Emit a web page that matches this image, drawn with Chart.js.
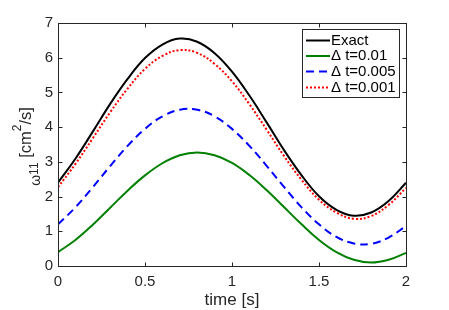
<!DOCTYPE html>
<html>
<head>
<meta charset="utf-8">
<script src="https://cdn.jsdelivr.net/npm/chart.js@4"></script>
<style>
  html, body { margin: 0; padding: 0; background: #fff; }
  #wrap { width: 449px; height: 310px; }
</style>
</head>
<body>
<div id="wrap"><canvas id="line-chart" width="449" height="310"></canvas></div>
<script>
// values, every 0.1 s
const time = [0, 0.1, 0.2, 0.3, 0.4, 0.5, 0.6, 0.7, 0.8, 0.9, 1.0,
              1.1, 1.2, 1.3, 1.4, 1.5, 1.6, 1.7, 1.8, 1.9, 2.0];
const exact  = [2.40, 3.09, 3.87, 4.67, 5.39, 5.99, 6.38, 6.55, 6.46, 6.13, 5.60,
                4.91, 4.13, 3.33, 2.61, 2.01, 1.62, 1.45, 1.54, 1.87, 2.40];
const dt001  = [0.40, 0.75, 1.19, 1.68, 2.17, 2.61, 2.96, 3.19, 3.27, 3.19, 2.97,
                2.62, 2.18, 1.69, 1.20, 0.75, 0.40, 0.18, 0.10, 0.18, 0.38];
const dt0005 = [1.20, 1.69, 2.27, 2.88, 3.46, 3.95, 4.31, 4.50, 4.50, 4.31, 3.95,
                3.46, 2.88, 2.27, 1.69, 1.20, 0.84, 0.65, 0.64, 0.82, 1.15];
const dt0001 = [2.27, 2.94, 3.68, 4.43, 5.11, 5.68, 6.05, 6.22, 6.14, 5.82, 5.32,
                4.66, 3.92, 3.16, 2.48, 1.91, 1.54, 1.36, 1.44, 1.76, 2.25];
const seriesLabels = ['Exact', '\u0394 t=0.01', '\u0394 t=0.005', '\u0394 t=0.001'];
const xTicks = [0, 0.5, 1, 1.5, 2];
const yTicks = [0, 1, 2, 3, 4, 5, 6, 7];

const axisColor = '#262626';
const font = '"Liberation Sans", Arial, Helvetica, sans-serif';

function pts(ys) {
  return ys.map((y, i) => ({ x: time[i], y: y }));
}

const styles = [
  { color: '#000000', dash: [] },
  { color: '#008000', dash: [] },
  { color: '#0000ff', dash: [8, 5] },
  { color: '#ff0000', dash: [2, 2] }
];
const allSeries = [exact, dt001, dt0005, dt0001];

// matlab-like box, inward ticks, legend inside and y label with sub/superscripts
const matlabBox = {
  id: 'matlabBox',
  afterDraw(chart) {
    const ctx = chart.ctx;
    const a = chart.chartArea;
    const xs = chart.scales.x, ys = chart.scales.y;
    const L = Math.round(a.left) + 0.5, R = Math.round(a.right) + 0.5;
    const T = Math.round(a.top) + 0.5, B = Math.round(a.bottom) + 0.5;
    ctx.save();
    ctx.strokeStyle = axisColor;
    ctx.lineWidth = 1;
    ctx.strokeRect(L, T, R - L, B - T);
    const tl = 4;
    ctx.beginPath();
    xTicks.forEach(v => {
      const px = Math.round(xs.getPixelForValue(v)) + 0.5;
      ctx.moveTo(px, B); ctx.lineTo(px, B - tl);
      ctx.moveTo(px, T); ctx.lineTo(px, T + tl);
    });
    yTicks.forEach(v => {
      const py = Math.round(ys.getPixelForValue(v)) + 0.5;
      ctx.moveTo(L, py); ctx.lineTo(L + tl, py);
      ctx.moveTo(R, py); ctx.lineTo(R - tl, py);
    });
    ctx.stroke();

    // x label
    ctx.fillStyle = axisColor;
    ctx.font = '17px ' + font;
    ctx.textAlign = 'center';
    ctx.textBaseline = 'alphabetic';
    ctx.fillText('time [s]', (a.left + a.right) / 2, 305);

    // y label: omega_11 [cm^2/s]
    const parts = [
      { t: '\u03c9', size: 14, base: 40 },
      { t: '11', size: 12, base: 38 },
      { t: ' [cm', size: 16.5, base: 31 },
      { t: '2', size: 12, base: 21 },
      { t: '/s]', size: 16.5, base: 31 }
    ];
    let total = 0;
    parts.forEach(p => {
      ctx.font = p.size + 'px ' + font;
      p.w = ctx.measureText(p.t).width;
      total += p.w;
    });
    const cy = (a.top + a.bottom) / 2 + 2;
    ctx.textAlign = 'left';
    let off = -total / 2;
    parts.forEach(p => {
      ctx.save();
      ctx.translate(p.base, cy);
      ctx.rotate(-Math.PI / 2);
      ctx.font = p.size + 'px ' + font;
      ctx.fillText(p.t, off, 0);
      ctx.restore();
      off += p.w;
    });

    // legend
    const bx = 302.5, by = 29.5, bw = 97, bh = 68;
    ctx.fillStyle = '#ffffff';
    ctx.fillRect(bx, by, bw, bh);
    ctx.strokeStyle = '#262626';
    ctx.lineWidth = 1;
    ctx.strokeRect(bx, by, bw, bh);
    const rowY = [40.5, 56, 71.5, 87.5];
    ctx.font = '15px ' + font;
    ctx.textBaseline = 'alphabetic';
    seriesLabels.forEach((lab, i) => {
      ctx.beginPath();
      ctx.strokeStyle = styles[i].color;
      ctx.lineWidth = 2;
      ctx.setLineDash(styles[i].dash);
      ctx.moveTo(306, rowY[i]);
      ctx.lineTo(330, rowY[i]);
      ctx.stroke();
      ctx.setLineDash([]);
      ctx.fillStyle = '#000';
      ctx.fillText(lab, 331, rowY[i] + 4);
    });
    ctx.restore();
  }
};

const chart = new Chart(document.getElementById('line-chart'), {
  type: 'line',
  data: {
    datasets: allSeries.map((ys, i) => ({
      label: seriesLabels[i],
      data: pts(ys),
      borderColor: styles[i].color,
      borderDash: styles[i].dash,
      borderWidth: 2,
      pointRadius: 0,
      fill: false,
      tension: 0.4,
      order: 4 - i
    }))
  },
  options: {
    responsive: false,
    animation: false,
    layout: { padding: { left: 0, right: 43, top: 23, bottom: 0 } },
    plugins: {
      legend: { display: false },
      tooltip: { enabled: false }
    },
    scales: {
      x: {
        type: 'linear',
        min: 0, max: 2,
        grid: { display: false, drawTicks: false },
        border: { display: false },
        ticks: {
          stepSize: 0.5,
          padding: 7,
          color: axisColor,
          font: { family: font, size: 15 },
          maxRotation: 0,
          callback: v => String(Number(v))
        },
        afterFit(s) { s.height = 44; }
      },
      y: {
        min: 0, max: 7,
        grid: { display: false, drawTicks: false },
        border: { display: false },
        ticks: {
          stepSize: 1,
          padding: 5,
          color: axisColor,
          font: { family: font, size: 15 }
        },
        afterFit(s) { s.width = 58; }
      }
    }
  },
  plugins: [matlabBox]
});
</script>
</body>
</html>
